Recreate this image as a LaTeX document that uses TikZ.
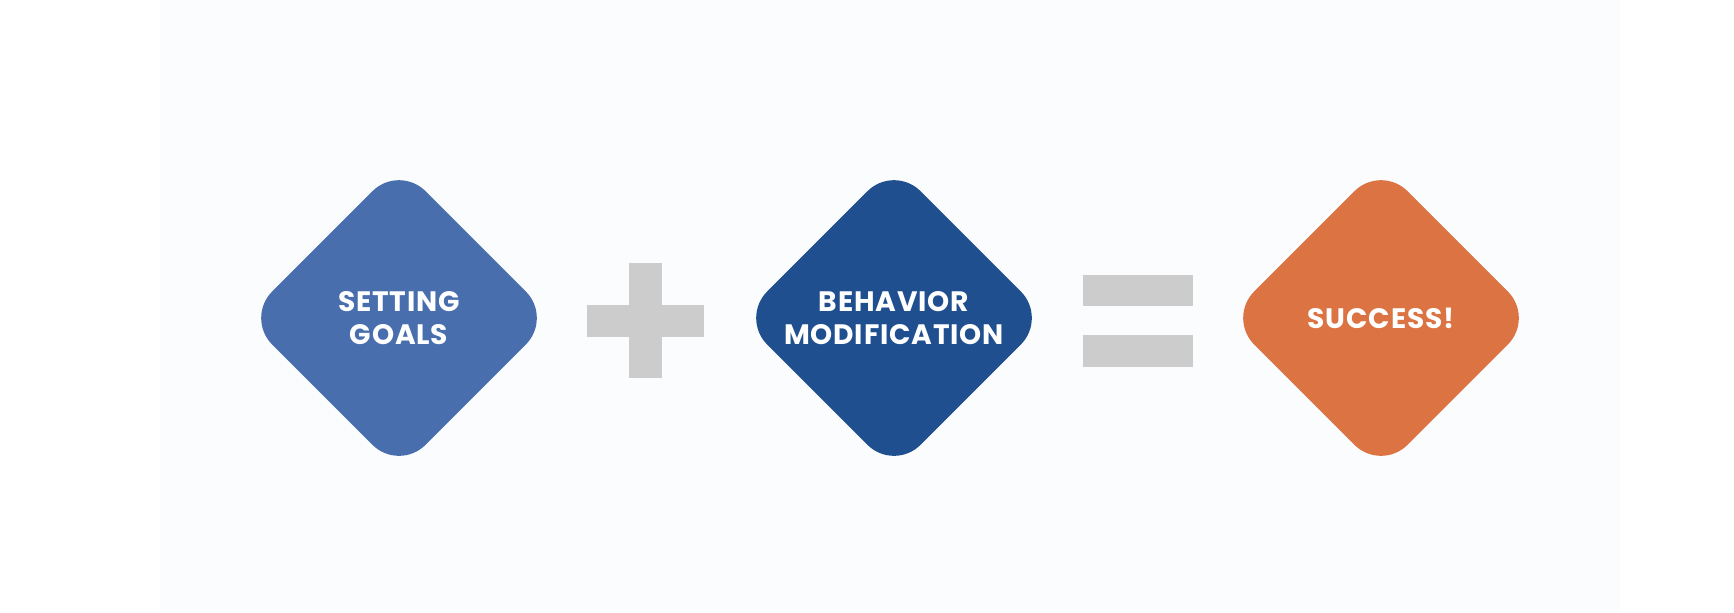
\documentclass[tikz,border=0pt]{standalone}
\usepackage{fontspec}
\setmainfont{Poppins}
\newfontfamily\gemfont{Poppins}[LetterSpace=3]
\usetikzlibrary{shapes.geometric}
\usetikzlibrary{positioning}
\definecolor{goalblue}{RGB}{73,110,174}
\definecolor{habitblue}{RGB}{31,79,143}
\definecolor{winorange}{RGB}{219,115,67}
\definecolor{signgray}{RGB}{204,204,204}
\definecolor{panel}{RGB}{251,252,254}
\tikzstyle{gem}=[diamond,aspect=1,minimum width=61.4mm,minimum height=61.4mm,inner sep=0pt,rounded corners=7.5mm,text=white,font=\gemfont\bfseries\fontsize{16}{18.7}\selectfont,align=center]
\tikzstyle{sign}=[fill=signgray]

\begin{document}
\begin{tikzpicture}[x=0.2mm,y=-0.2mm]
    \useasboundingbox (0,0) rectangle (1734,612);
    \fill[white] (0,0) rectangle (1734,612);
    \fill[panel] (160,0) rectangle (1620,612);
    \node[gem,fill=goalblue] (goals) at (399,318) {SETTING\\GOALS};
    \node[gem,fill=habitblue] (habit) at (894,318) {BEHAVIOR\\MODIFICATION};
    \node[gem,fill=winorange] (win) at (1381,318) {SUCCESS!};
    % plus
    \fill[sign] (629,263) rectangle (662,378);
    \fill[sign] (587,305) rectangle (704,337);
    % equals
    \fill[sign] (1083,275) rectangle (1193,306);
    \fill[sign] (1083,335) rectangle (1193,367);
\end{tikzpicture}
\end{document}
